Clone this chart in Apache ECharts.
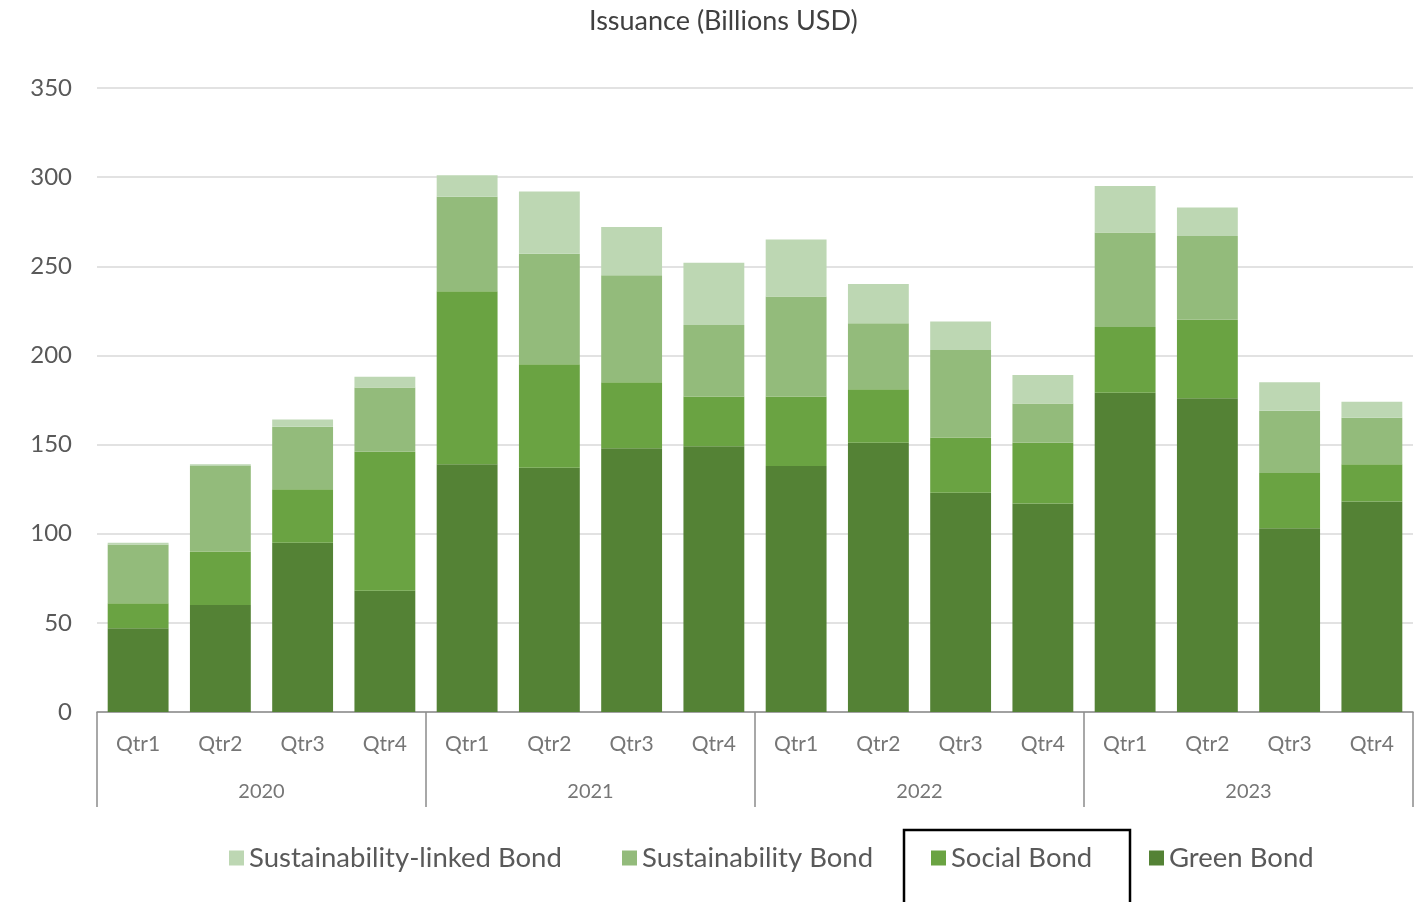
<!DOCTYPE html>
<html>
<head>
<meta charset="utf-8">
<script src="https://cdn.jsdelivr.net/npm/echarts@6/dist/echarts.min.js"></script>
<style>
html,body{margin:0;padding:0;background:#fff;}
#chart{width:1426px;height:902px;}
</style>
</head>
<body>
<div id="chart"></div>
<script>
const quarters = ['Qtr1','Qtr2','Qtr3','Qtr4','Qtr1','Qtr2','Qtr3','Qtr4','Qtr1','Qtr2','Qtr3','Qtr4','Qtr1','Qtr2','Qtr3','Qtr4'];
const years = ['2020','2021','2022','2023'];
const greenBond = [47, 60, 95, 68, 139, 137, 148, 149, 138, 151, 123, 117, 179, 176, 103, 118];
const socialBond = [14, 30, 30, 78, 97, 58, 37, 28, 39, 30, 31, 34, 37, 44, 31, 21];
const sustainabilityBond = [33, 48, 35, 36, 53, 62, 60, 40, 56, 37, 49, 22, 53, 47, 35, 26];
const sustainabilityLinkedBond = [1, 1, 4, 6, 12, 35, 27, 35, 32, 22, 16, 16, 26, 16, 16, 9];
const yTicks = [0, 50, 100, 150, 200, 250, 300, 350];

const FONT = 'Lato, "Open Sans", sans-serif';
const colors = {
  'Green Bond': '#548235',
  'Social Bond': '#6aa342',
  'Sustainability Bond': '#93bb7b',
  'Sustainability-linked Bond': '#bdd7b3'
};

const chart = echarts.init(document.getElementById('chart'));
const mk = (name, data) => ({
  name, type: 'bar', stack: 'total', data,
  xAxisIndex: 0, yAxisIndex: 0,
  barCategoryGap: '26%',
  itemStyle: { color: colors[name] },
  emphasis: { disabled: true }
});
const legendItem = (name, left) => ({
  data: [name], left, top: 839, itemWidth: 15, itemHeight: 15, itemGap: 0,
  icon: 'rect',
  textStyle: { fontFamily: FONT, fontSize: 27.5, color: '#595959', padding: [0,0,0,0] },
  selectedMode: false
});

chart.setOption({
  animation: false,
  backgroundColor: '#ffffff',
  title: {
    text: 'Issuance (Billions USD)', left: 584, top: 3,
    textStyle: { fontFamily: FONT, fontSize: 27, fontWeight: 'normal', color: '#404040' }
  },
  legend: [
    legendItem('Sustainability-linked Bond', 224),
    legendItem('Sustainability Bond', 617),
    legendItem('Social Bond', 926),
    legendItem('Green Bond', 1144)
  ],
  grid: { left: 97, right: 13, top: 88, bottom: 190, containLabel: false },
  xAxis: [
    {
      type: 'category', data: quarters, position: 'bottom',
      axisLine: { show: true, lineStyle: { color: '#8c8c8c', width: 1.5 } },
      axisTick: { show: false },
      axisLabel: { fontFamily: FONT, fontSize: 21, color: '#767676', margin: 22 }
    },
    {
      type: 'category', data: years, position: 'bottom',
      axisLine: { show: false },
      axisTick: { show: true, length: 95, lineStyle: { color: '#8c8c8c', width: 1.5 } },
      axisLabel: { fontFamily: FONT, fontSize: 20, color: '#767676', margin: 70 },
      splitLine: { show: false }
    }
  ],
  yAxis: {
    type: 'value', min: 0, max: 350, interval: 50,
    axisLine: { show: false }, axisTick: { show: false },
    axisLabel: { fontFamily: FONT, fontSize: 24, color: '#595959', margin: 25,
      formatter: v => yTicks.includes(v) ? String(v) : '' },
    splitLine: { lineStyle: { color: '#d9d9d9', width: 1.5 } }
  },
  graphic: [
    { type: 'rect', shape: { x: 904, y: 830, width: 226, height: 80 },
      style: { fill: 'none', stroke: '#000', lineWidth: 2.5 }, silent: true }
  ],
  series: [
    mk('Green Bond', greenBond),
    mk('Social Bond', socialBond),
    mk('Sustainability Bond', sustainabilityBond),
    mk('Sustainability-linked Bond', sustainabilityLinkedBond)
  ]
});
</script>
</body>
</html>
